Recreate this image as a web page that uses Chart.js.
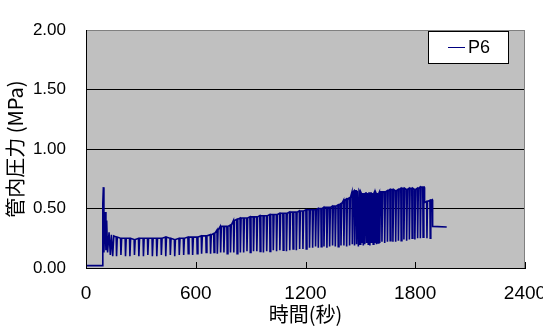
<!DOCTYPE html>
<html>
<head>
<meta charset="utf-8">
<script src="https://cdn.jsdelivr.net/npm/chart.js@4"></script>
<style>
  body { margin: 0; background: #fff; }
</style>
</head>
<body>
<canvas id="chart" width="543" height="329"></canvas>
<script>
// start-up of the pump: flat, spike, decaying swings
const preTime  = [0, 89, 92, 95, 98, 104, 109, 113, 118, 126, 133, 139, 146, 152];
const prePress = [0.02, 0.02, 0.55, 0.68, 0.13, 0.47, 0.15, 0.40, 0.13, 0.30, 0.11, 0.28, 0.10, 0.27];

// each pressure drop: time (s), level before the drop, lowest level (MPa)
const toothTime = [
  165, 189, 214, 238, 263, 287, 312, 336, 361, 385, 410, 434, 459, 483, 508, 532, 557, 581, 606, 630, 655, 679,
  698, 716, 734, 752, 770, 788, 806, 824, 842, 860, 878, 896, 914, 932, 950, 968, 986, 1004, 1022, 1040, 1058, 1076, 1094, 1112, 1130, 1148, 1166, 1184, 1202, 1220,
  1237, 1253, 1268, 1284, 1299, 1315, 1330, 1346, 1361, 1377, 1392, 1408, 1423, 1439, 1454,
  1466, 1477, 1487, 1496, 1505, 1514, 1523, 1532, 1541, 1550, 1559, 1568, 1577, 1586, 1595, 1604,
  1616, 1631, 1646, 1661, 1676, 1691, 1706, 1721, 1736, 1751, 1766, 1781, 1796, 1811, 1826, 1841
];
const toothTop = [
  0.26, 0.25, 0.25, 0.25, 0.24, 0.25, 0.25, 0.25, 0.25, 0.25, 0.25, 0.26, 0.25, 0.24, 0.25, 0.25, 0.26, 0.26, 0.26, 0.27, 0.27, 0.28,
  0.29, 0.32, 0.35, 0.35, 0.35, 0.36, 0.40, 0.41, 0.42, 0.42, 0.42, 0.43, 0.43, 0.43, 0.44, 0.44, 0.44, 0.45, 0.45, 0.45, 0.46, 0.46, 0.46, 0.47, 0.47, 0.47, 0.48, 0.48, 0.49, 0.49,
  0.49, 0.49, 0.50, 0.50, 0.51, 0.51, 0.51, 0.52, 0.52, 0.53, 0.54, 0.57, 0.58, 0.59, 0.64,
  0.65, 0.65, 0.65, 0.64, 0.63, 0.63, 0.63, 0.63, 0.63, 0.63, 0.63, 0.63, 0.64, 0.63, 0.63, 0.64,
  0.64, 0.64, 0.65, 0.66, 0.66, 0.65, 0.66, 0.67, 0.67, 0.66, 0.67, 0.67, 0.66, 0.67, 0.68, 0.68
];
const toothLow = [
  0.10, 0.11, 0.10, 0.10, 0.11, 0.10, 0.10, 0.11, 0.10, 0.10, 0.11, 0.10, 0.11, 0.10, 0.11, 0.11, 0.12, 0.11, 0.12, 0.12, 0.13, 0.12,
  0.13, 0.12, 0.13, 0.13, 0.12, 0.13, 0.13, 0.12, 0.13, 0.13, 0.14, 0.13, 0.14, 0.14, 0.14, 0.13, 0.14, 0.14, 0.15, 0.14, 0.15, 0.15, 0.14, 0.15, 0.16, 0.15, 0.16, 0.16, 0.16, 0.17,
  0.17, 0.18, 0.17, 0.18, 0.18, 0.17, 0.18, 0.19, 0.18, 0.18, 0.19, 0.19, 0.18, 0.19, 0.20,
  0.19, 0.20, 0.18, 0.20, 0.21, 0.19, 0.20, 0.21, 0.20, 0.19, 0.21, 0.20, 0.21, 0.20, 0.21, 0.21,
  0.22, 0.21, 0.22, 0.23, 0.22, 0.22, 0.23, 0.23, 0.24, 0.23, 0.24, 0.25, 0.24, 0.25, 0.25, 0.26
];

// end of the run
const tailTime  = [1849, 1851, 1862, 1864, 1867, 1880, 1882, 1885, 1893, 1895, 1972];
const tailPress = [0.68, 0.55, 0.56, 0.25, 0.56, 0.57, 0.25, 0.57, 0.575, 0.35, 0.345];

const xTicks = [0, 600, 1200, 1800, 2400];
const seriesName = 'P6';

const points = [];
preTime.forEach((t, i) => points.push({x: t, y: prePress[i]}));
toothTime.forEach((t, i) => {
  points.push({x: t, y: toothTop[i]}, {x: t + 2, y: toothLow[i]}, {x: t + 6, y: toothTop[i]});
});
tailTime.forEach((t, i) => points.push({x: t, y: tailPress[i]}));

const NUM_FONT = "'Liberation Sans', Arial, sans-serif";
const JP_FONT = "'Noto Sans CJK JP', sans-serif";
const LINE_COLOR = '#000080';

const plotBack = {
  id: 'plotBack',
  beforeDraw(chart) {
    const {ctx, chartArea: a} = chart;
    ctx.save();
    ctx.fillStyle = '#fff';
    ctx.fillRect(0, 0, chart.width, chart.height);
    ctx.fillStyle = '#C0C0C0';
    ctx.fillRect(a.left, a.top, a.right - a.left, a.bottom - a.top);
    ctx.restore();
  },
  afterDraw(chart) {
    const {ctx, chartArea: a} = chart;
    const xs = chart.scales.x;
    ctx.save();
    // right border
    ctx.strokeStyle = '#808080';
    ctx.lineWidth = 1;
    ctx.beginPath();
    ctx.moveTo(Math.round(a.right) - 0.5, a.top);
    ctx.lineTo(Math.round(a.right) - 0.5, a.bottom);
    ctx.stroke();
    // inward tick marks on the time axis
    ctx.strokeStyle = '#000';
    xs.ticks.forEach(t => {
      const px = Math.round(xs.getPixelForValue(t.value)) + 0.5;
      ctx.beginPath();
      ctx.moveTo(px, a.bottom);
      ctx.lineTo(px, a.bottom - 6);
      ctx.stroke();
    });
    // legend box
    ctx.fillStyle = '#fff';
    ctx.fillRect(428.5, 31.5, 80, 32);
    ctx.strokeStyle = '#000';
    ctx.strokeRect(428.5, 31.5, 80, 32);
    ctx.strokeStyle = LINE_COLOR;
    ctx.beginPath();
    ctx.moveTo(448, 47.5);
    ctx.lineTo(465, 47.5);
    ctx.stroke();
    ctx.fillStyle = '#000';
    ctx.font = '18px ' + NUM_FONT;
    ctx.textBaseline = 'middle';
    ctx.textAlign = 'left';
    ctx.fillText(chart.data.datasets[0].label, 468, 48);
    ctx.restore();
  }
};

new Chart(document.getElementById('chart'), {
  type: 'line',
  data: {
    datasets: [{
      label: seriesName,
      data: points,
      borderColor: LINE_COLOR,
      borderWidth: 1.6,
      pointRadius: 0,
      tension: 0,
      fill: false
    }]
  },
  options: {
    responsive: false,
    animation: false,
    layout: { padding: { left: 0, right: 18, top: 17, bottom: 0 } },
    plugins: {
      legend: { display: false },
      tooltip: { enabled: false }
    },
    scales: {
      x: {
        type: 'linear',
        min: 0,
        max: 2400,
        afterBuildTicks: s => { s.ticks = xTicks.map(v => ({value: v})); },
        afterFit: s => { s.height = 61; s.paddingLeft = 0; s.paddingRight = 0; },
        grid: { display: false, drawTicks: false },
        border: { display: true, color: '#000', width: 1 },
        ticks: {
          padding: 14,
          color: '#000',
          maxRotation: 0,
          font: { family: NUM_FONT, size: 19 },
          callback: v => String(v)
        },
        title: {
          display: true,
          text: '時間(秒)',
          color: '#000',
          padding: 3,
          font: { family: JP_FONT, size: 20 }
        }
      },
      y: {
        min: 0,
        max: 2,
        afterFit: s => { s.width = 86; },
        grid: {
          drawTicks: false,
          color: c => (c.tick && c.tick.value === 2 ? '#808080' : '#000'),
          lineWidth: 1
        },
        border: { display: true, color: '#000', width: 1 },
        ticks: {
          stepSize: 0.5,
          padding: 20,
          color: '#000',
          font: { family: NUM_FONT, size: 17 },
          callback: v => Number(v).toFixed(2)
        },
        title: {
          display: true,
          text: '管内圧力 (MPa)',
          color: '#000',
          padding: 3,
          font: { family: JP_FONT, size: 20 }
        }
      }
    }
  },
  plugins: [plotBack]
});
</script>
</body>
</html>
